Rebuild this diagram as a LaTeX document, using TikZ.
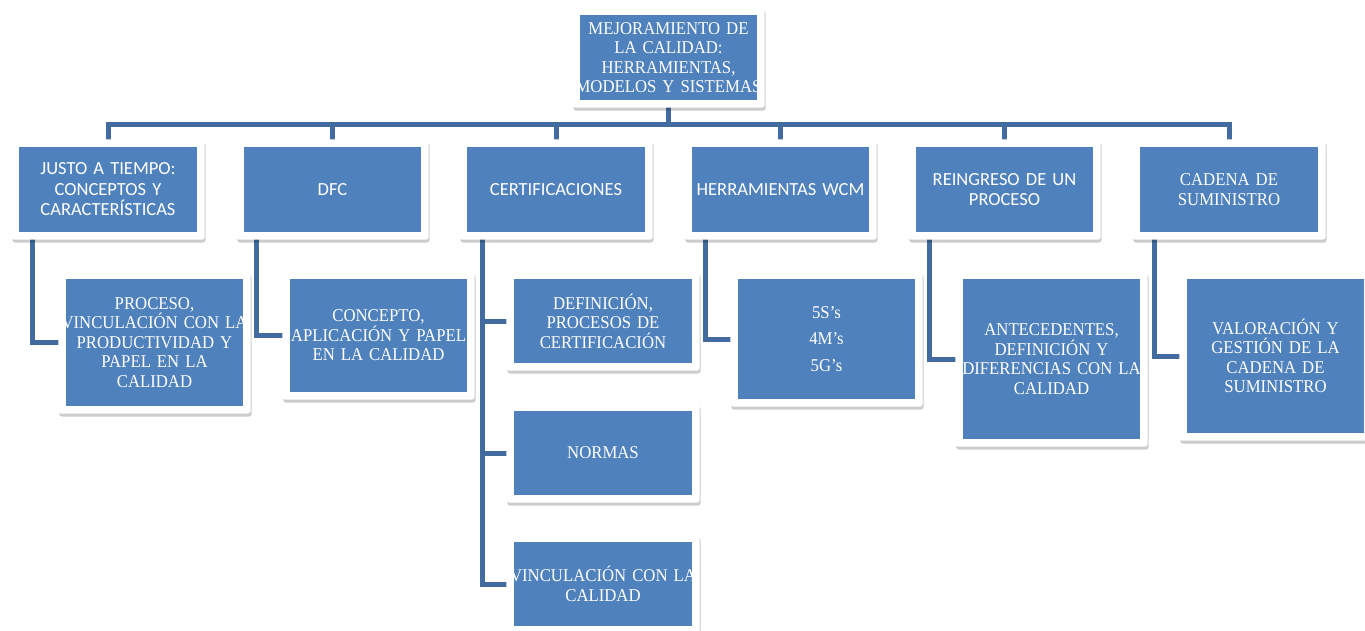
\documentclass[tikz,border=0pt]{standalone}
\usepackage{fontspec}
\setmainfont[FakeStretch=0.93]{Liberation Serif}
\newfontfamily\calib{Carlito}
\usetikzlibrary{shadows,fit,backgrounds,calc}
\definecolor{boxblue}{HTML}{4F81BD}
\definecolor{connblue}{RGB}{66,108,160}
\newcommand\myline[1]{\makebox[\hsize]{#1}}
\tikzset{
  bbox/.style={fill=boxblue, text=white, inner sep=0pt, align=center,
    font=\fontsize{18}{19.5}\selectfont},
  sbox/.style={bbox, font=\calib\fontsize{18.5}{20.5}\selectfont},
  frame/.style={fill=white, rounded corners=3pt, inner sep=7.5pt,
    drop shadow={shadow xshift=1pt, shadow yshift=-3pt, opacity=0.2, fill=black}},
  conn/.style={draw=connblue, line width=5pt, line join=miter},
}
\begin{document}
\begin{tikzpicture}[x=1pt,y=-1pt]
\useasboundingbox (0,0) rectangle (1365,631);
% top node
\node[bbox, minimum width=177, text width=177, minimum height=85] (bt) at (668.5,57.5)
  {\myline{MEJORAMIENTO DE}\\\myline{LA CALIDAD:}\\\myline{HERRAMIENTAS,}\\\myline{MODELOS Y SISTEMAS}};
% level 1
\node[sbox, minimum width=178, text width=178, minimum height=85] (b1) at (108,189.5)
  {JUSTO A TIEMPO:\\CONCEPTOS Y\\CARACTERÍSTICAS};
\node[sbox, minimum width=177, text width=177, minimum height=85] (b2) at (332.5,189.5) {DFC};
\node[sbox, minimum width=178, text width=178, minimum height=85] (b3) at (556,189.5) {CERTIFICACIONES};
\node[sbox, minimum width=177, text width=177, minimum height=85] (b4) at (780.5,189.5) {HERRAMIENTAS WCM};
\node[sbox, minimum width=177, text width=177, minimum height=85] (b5) at (1004.5,189.5) {REINGRESO DE UN\\PROCESO};
\node[bbox, minimum width=178, text width=178, minimum height=85] (b6) at (1229,189.5) {CADENA DE\\SUMINISTRO};
% level 2
\node[bbox, minimum width=177, text width=177, minimum height=127] (c1) at (154.5,342.5)
  {\myline{PROCESO,}\\\myline{VINCULACIÓN CON LA}\\\myline{PRODUCTIVIDAD Y}\\\myline{PAPEL EN LA}\\\myline{CALIDAD}};
\node[bbox, minimum width=177, text width=177, minimum height=113] (c2) at (378.5,335.5)
  {\myline{CONCEPTO,}\\\myline{APLICACIÓN Y PAPEL}\\\myline{EN LA CALIDAD}};
\node[bbox, minimum width=178, text width=178, minimum height=84] (c3a) at (603,321)
  {DEFINICIÓN,\\PROCESOS DE\\CERTIFICACIÓN};
\node[bbox, minimum width=178, text width=178, minimum height=84] (c3b) at (603,453) {NORMAS};
\node[bbox, minimum width=178, text width=178, minimum height=84] (c3c) at (603,584)
  {\myline{VINCULACIÓN CON LA}\\\myline{CALIDAD}};
\node[bbox, minimum width=177, text width=177, minimum height=120] (c4) at (826.5,339)
  {5S's\\[7pt]4M's\\[7pt]5G's};
\node[bbox, minimum width=177, text width=177, minimum height=160] (c5) at (1051.5,359)
  {\myline{ANTECEDENTES,}\\\myline{DEFINICIÓN Y}\\\myline{DIFERENCIAS CON LA}\\\myline{CALIDAD}};
\node[bbox, minimum width=177, text width=177, minimum height=154] (c6) at (1275.5,356)
  {VALORACIÓN Y\\GESTIÓN DE LA\\CADENA DE\\SUMINISTRO};
\begin{scope}[on background layer]
  % bus
  \foreach \b in {b1,b2,b3,b4,b5,b6}
    \draw[conn] (bt.south) -- ++(0,24) -| (\b.north);
  % children connectors
  \draw[conn] ($(b1.south west)+(14,0)$) |- (c1.west);
  \draw[conn] ($(b2.south west)+(13,0)$) |- (c2.west);
  \draw[conn] ($(b3.south west)+(16,0)$) |- (c3a.west);
  \draw[conn] ($(b3.south west)+(16,0)$) |- (c3b.west);
  \draw[conn] ($(b3.south west)+(16,0)$) |- (c3c.west);
  \draw[conn] ($(b4.south west)+(14,0)$) |- (c4.west);
  \draw[conn] ($(b5.south west)+(14,0)$) |- (c5.west);
  \draw[conn] ($(b6.south west)+(15,0)$) |- (c6.west);
  % frames
  \foreach \n in {bt,b1,b2,b3,b4,b5,b6,c1,c2,c3a,c3b,c3c,c4,c5,c6}
    \node[frame, fit=(\n)] (f\n) {};
\end{scope}
\end{tikzpicture}
\end{document}
